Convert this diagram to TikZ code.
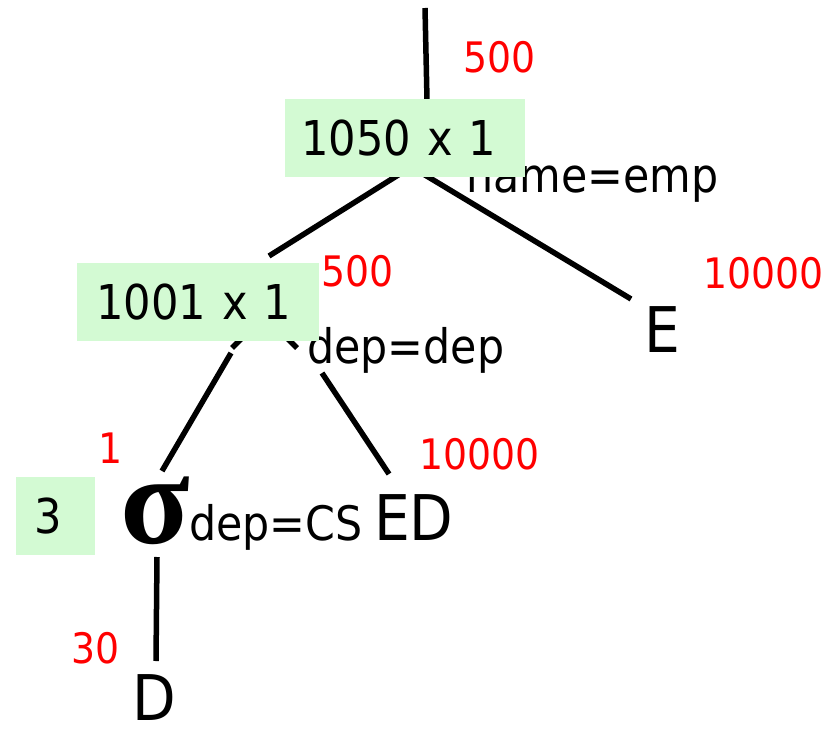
\documentclass[tikz,border=0pt]{standalone}
\usepackage{fontspec}
\setmainfont{DejaVu Sans Condensed}
\newfontfamily\sigfont{Liberation Serif}
\definecolor{boxgreen}{RGB}{211,250,211}
\begin{document}
\begin{tikzpicture}[x=1pt,y=-1pt,
  edge/.style={line width=5.5pt},
  lbl/.style={anchor=base west, inner sep=0pt, font=\fontsize{47.5}{49}\selectfont},
  rel/.style={anchor=base west, inner sep=0pt, font=\fontsize{63}{66}\selectfont},
  cost/.style={anchor=base west, inner sep=0pt, text=red, font=\fontsize{42}{44}\selectfont},
  card/.style={fill=boxgreen, anchor=north west, inner ysep=0pt, minimum height=78pt, align=left, font=\fontsize{48}{50}\selectfont}]
\useasboundingbox (0,0) rectangle (832,735);
% text labels
\node[cost] (c1) at (463,73) {500};
\node[lbl] (n1) at (466,193) {name=emp};
\node[rel] (E) at (644,352) {E};
\node[cost] (c2) at (703,288) {10000};
\node[cost] (c3) at (321,287) {500};
\node[lbl] (n2) at (307,363) {dep=dep};
\node[cost] (c4) at (98,463) {1};
\node[cost] (c5) at (419,469) {10000};
\node[anchor=base west, inner sep=0pt, font=\sigfont\bfseries\fontsize{128}{130}\selectfont] (sig) at (120,543) {σ};
\node[lbl] (n3) at (189,540) {dep=CS};
\node[rel] (ED) at (374,540) {ED};
\node[cost] (c6) at (71,663) {30};
\node[rel] (D) at (132,720) {D};
% connectors
\coordinate (top) at (425,8);
\coordinate (b1t) at (427,100);
\coordinate (b1l) at (403,172);
\coordinate (b2t) at (269,256);
\coordinate (b1r) at (420,172);
\coordinate (Et) at (631,299);
\coordinate (j2l) at (232,348);
\coordinate (j2r) at (297,348);
\coordinate (b2l) at (231,353);
\coordinate (sigt) at (162,471);
\coordinate (b2r) at (322,373);
\coordinate (EDt) at (389,474);
\coordinate (sigb) at (157,557);
\coordinate (Dt) at (156,661);
\draw[edge] (top) -- (b1t);
\draw[edge] (b1l) -- (b2t);
\draw[edge] (b1r) -- (Et);
\draw[edge] (j2l) -- ++(30,-30);
\draw[edge] (j2r) -- ++(-30,-30);
\draw[edge] (b2l) -- (sigt);
\draw[edge] (b2r) -- (EDt);
\draw[edge] (sigb) -- (Dt);
% cardinality boxes
\node[card, text width=208pt, inner xsep=16pt] (b1) at (285,99) {1050 x 1};
\node[card, text width=204pt, inner xsep=19pt] (b2) at (77,263) {1001 x 1};
\node[card, text width=43pt, inner xsep=18pt] (b3) at (16,477) {3};
\end{tikzpicture}
\end{document}
